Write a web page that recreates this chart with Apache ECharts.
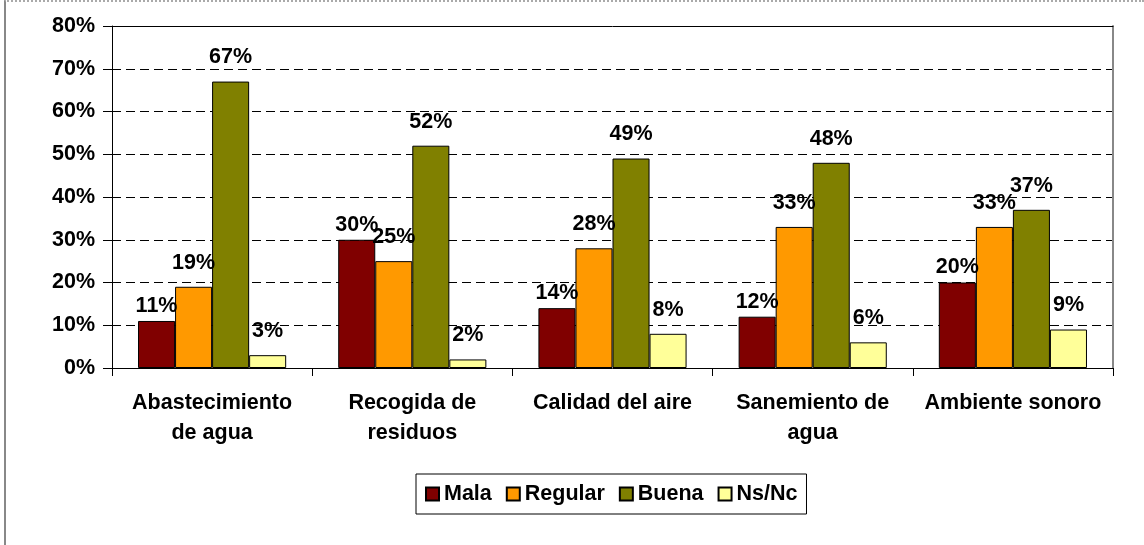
<html style="width: 100%; height: 100%">
<head>
    <meta charset="utf-8">
</head>
<script src="https://cdn.jsdelivr.net/npm/echarts@6/dist/echarts.min.js"></script>
<body style="width: 100%; height: 100%; margin: 0; background: #fff">
<div id="frame" style="position: absolute; left: 4px; top: 0; right: 0; bottom: 0; border-left: 2px solid #888; border-top: 2px dotted #aaa"></div>
<div id="container" style="position: absolute; left: 0; top: 0; width: 1144px; height: 545px"></div>

<script type="text/javascript">
    var categories = ['Abastecimiento\nde agua', 'Recogida de\nresiduos', 'Calidad del aire', 'Sanemiento de\nagua', 'Ambiente sonoro'];
    var mala = [11, 30, 14, 12, 20];
    var regular = [19, 25, 28, 33, 33];
    var buena = [67, 52, 49, 48, 37];
    var nsnc = [3, 2, 8, 6, 9];

    var font = 'Liberation Sans, Arial, sans-serif';
    var fs = 21.5;
    var dom = document.getElementById("container");
    var myChart = echarts.init(dom);

    function bar(name, data, color, dist) {
        return {
            name: name,
            type: 'bar',
            data: data,
            barGap: 0,
            barCategoryGap: '26%',
            itemStyle: {color: color, borderColor: '#000', borderWidth: 1},
            label: {
                show: true,
                position: 'top',
                distance: dist,
                formatter: '{c}%',
                color: '#000',
                fontFamily: font,
                fontWeight: 'bold',
                fontSize: fs
            }
        };
    }

    var option = {
        animation: false,
        textStyle: {fontFamily: font},
        grid: {left: 112, right: 31, top: 26, bottom: 177},
        legend: {
            bottom: 31,
            left: 416,
            icon: 'rect',
            itemWidth: 13,
            itemHeight: 13,
            itemGap: 14,
            padding: [9, 9, 9, 9],
            borderColor: '#000',
            borderWidth: 1,
            textStyle: {fontFamily: font, fontWeight: 'bold', fontSize: fs, color: '#000'},
            data: ['Mala', 'Regular', 'Buena', 'Ns/Nc']
        },
        xAxis: [{
            type: 'category',
            data: categories,
            axisLine: {lineStyle: {color: '#000', width: 1}},
            axisTick: {show: true, length: 8, lineStyle: {color: '#000'}},
            axisLabel: {
                interval: 0,
                margin: 20,
                color: '#000',
                fontFamily: font,
                fontWeight: 'bold',
                fontSize: fs,
                lineHeight: 30
            }
        }, {
            type: 'category',
            data: categories,
            position: 'top',
            axisLine: {show: true, onZero: false, lineStyle: {color: '#000', width: 1}},
            axisTick: {show: false},
            axisLabel: {show: false}
        }],
        yAxis: [{
            type: 'value',
            min: 0,
            max: 80,
            interval: 10,
            axisLine: {show: true, lineStyle: {color: '#000'}},
            axisTick: {show: true, length: 9, lineStyle: {color: '#000'}},
            axisLabel: {
                formatter: '{value}%',
                margin: 17,
                color: '#000',
                fontFamily: font,
                fontWeight: 'bold',
                fontSize: fs
            },
            splitLine: {showMaxLine: false, lineStyle: {color: '#000', type: [9, 5], width: 1}}
        }, {
            type: 'value',
            position: 'right',
            min: 0,
            max: 80,
            interval: 10,
            axisLine: {show: true, lineStyle: {color: '#888', width: 2}},
            axisTick: {show: false},
            axisLabel: {show: false},
            splitLine: {show: false}
        }],
        series: [
            bar('Mala', mala, '#800000', 4),
            bar('Regular', regular, '#FF9900', 13),
            bar('Buena', buena, '#808000', 13),
            bar('Ns/Nc', nsnc, '#FFFF99', 13)
        ]
    };
    myChart.setOption(option);
</script>
</body>
</html>
